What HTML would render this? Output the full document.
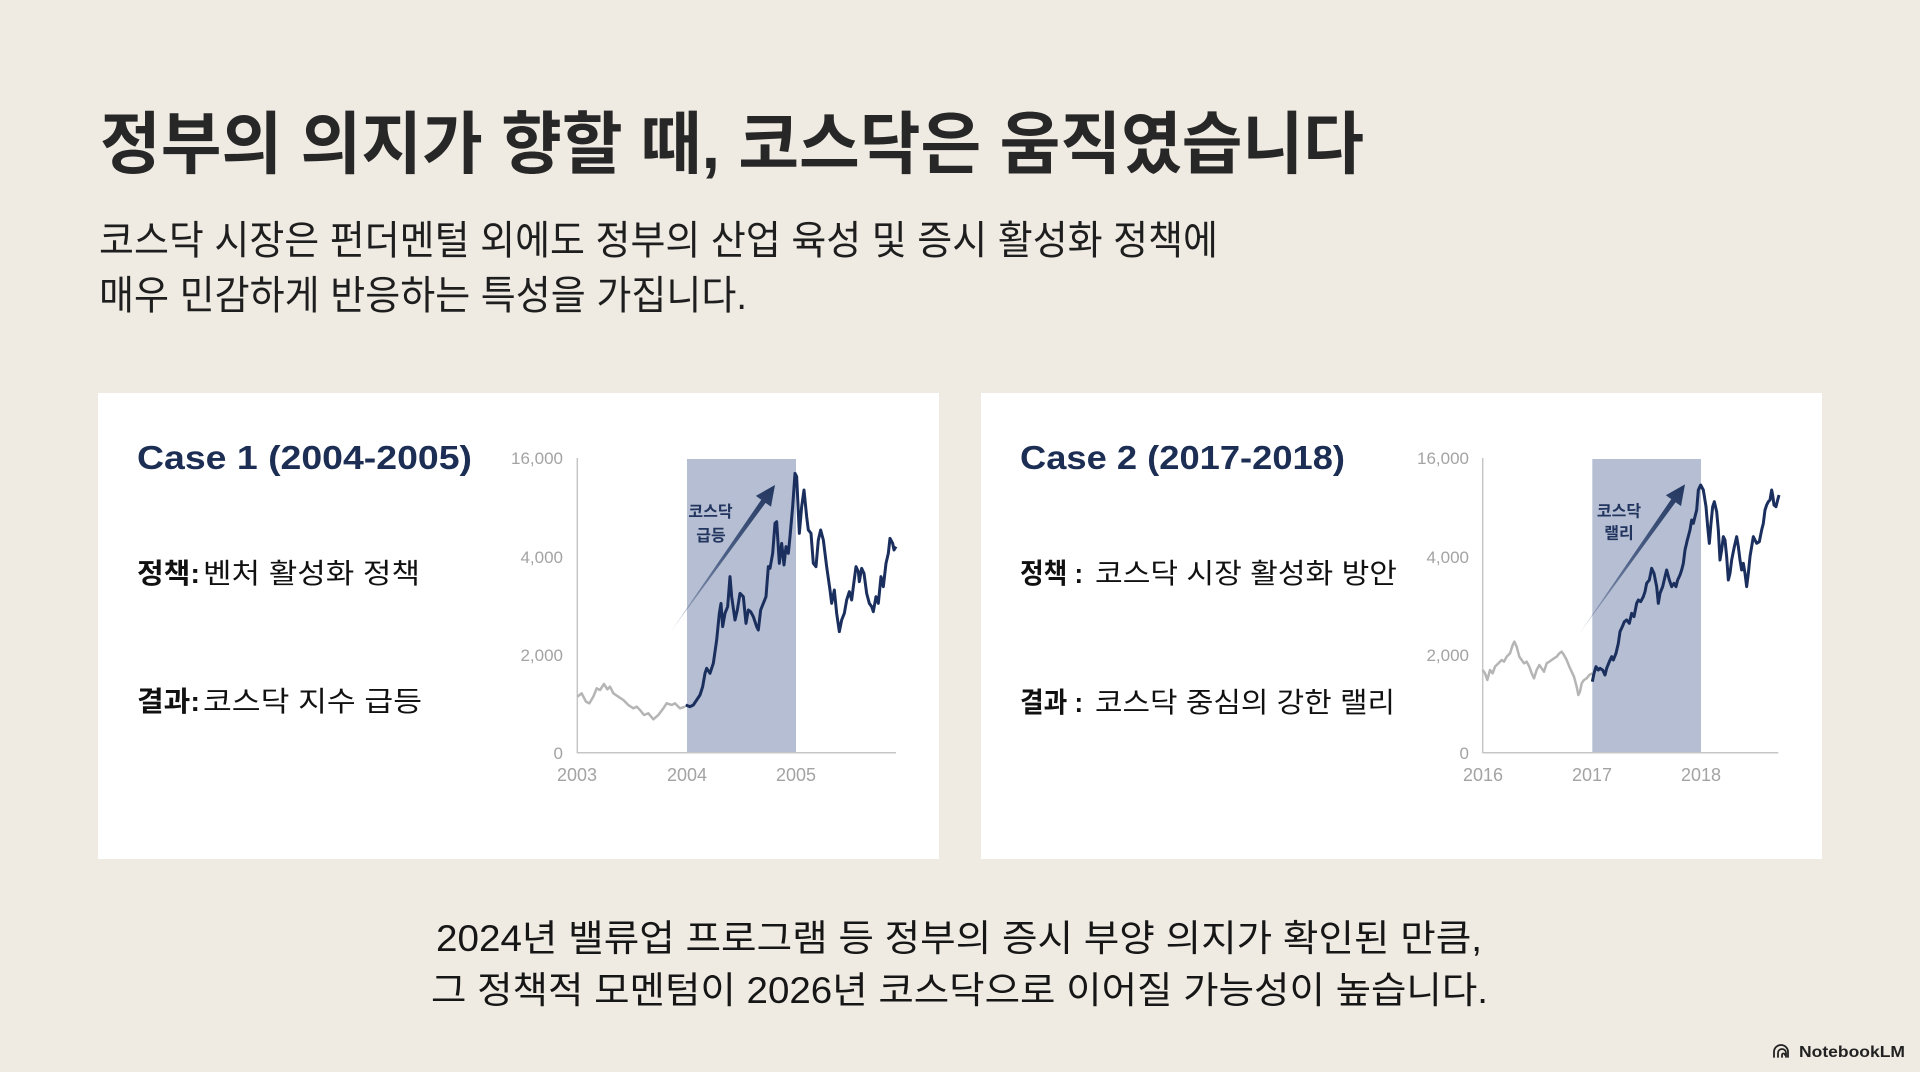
<!DOCTYPE html>
<html>
<head>
<meta charset="utf-8">
<style>
html,body{margin:0;padding:0;background:#efebe3;}
svg{display:block;}
text{font-family:"Liberation Sans","Noto Sans CJK KR",sans-serif;}
</style>
</head>
<body>
<svg width="1920" height="1072" viewBox="0 0 1920 1072" xmlns="http://www.w3.org/2000/svg">
<defs>
<linearGradient id="ag1" gradientUnits="userSpaceOnUse" x1="510" y1="578" x2="825" y2="135">
<stop offset="0" stop-color="#2b416e" stop-opacity="0.15"/>
<stop offset="0.5" stop-color="#2b416e" stop-opacity="0.75"/>
<stop offset="1" stop-color="#22365f" stop-opacity="1"/>
</linearGradient>
<linearGradient id="ag2" gradientUnits="userSpaceOnUse" x1="595" y1="585" x2="915" y2="133">
<stop offset="0" stop-color="#2b416e" stop-opacity="0.15"/>
<stop offset="0.5" stop-color="#2b416e" stop-opacity="0.75"/>
<stop offset="1" stop-color="#22365f" stop-opacity="1"/>
</linearGradient>
</defs>
<rect x="0" y="0" width="1920" height="1072" fill="#efebe3"/>

<!-- Title -->
<text x="100" y="168" font-size="68" font-weight="700" fill="#272727" textLength="1264" lengthAdjust="spacingAndGlyphs">정부의 의지가 향할 때, 코스닥은 움직였습니다</text>

<!-- Subtitle -->
<text x="99" y="254" font-size="40" fill="#1e1e1e" textLength="1119" lengthAdjust="spacingAndGlyphs">코스닥 시장은 펀더멘털 외에도 정부의 산업 육성 및 증시 활성화 정책에</text>
<text x="99" y="309" font-size="40" fill="#1e1e1e" textLength="648" lengthAdjust="spacingAndGlyphs">매우 민감하게 반응하는 특성을 가집니다.</text>

<!-- Cards -->
<rect x="98" y="393" width="841" height="466" fill="#ffffff"/>
<rect x="981" y="393" width="841" height="466" fill="#ffffff"/>

<!-- Card 1 text -->
<text x="137" y="469" font-size="33" font-weight="700" fill="#1c2e54" textLength="335" lengthAdjust="spacingAndGlyphs">Case 1 (2004-2005)</text>
<text x="137" y="583" font-size="28" font-weight="700" fill="#111" textLength="63" lengthAdjust="spacingAndGlyphs">정책:</text>
<text x="203" y="583" font-size="28" fill="#111" textLength="217" lengthAdjust="spacingAndGlyphs">벤처 활성화 정책</text>
<text x="137" y="711" font-size="28" font-weight="700" fill="#111" textLength="63" lengthAdjust="spacingAndGlyphs">결과:</text>
<text x="203" y="711" font-size="28" fill="#111" textLength="219" lengthAdjust="spacingAndGlyphs">코스닥 지수 급등</text>

<!-- Card 2 text -->
<text x="1020" y="469" font-size="33" font-weight="700" fill="#1c2e54" textLength="325" lengthAdjust="spacingAndGlyphs">Case 2 (2017-2018)</text>
<text x="1020" y="583" font-size="28" font-weight="700" fill="#111" textLength="63" lengthAdjust="spacingAndGlyphs">정책 :</text>
<text x="1095" y="583" font-size="28" fill="#111" textLength="302" lengthAdjust="spacingAndGlyphs">코스닥 시장 활성화 방안</text>
<text x="1020" y="712" font-size="28" font-weight="700" fill="#111" textLength="63" lengthAdjust="spacingAndGlyphs">결과 :</text>
<text x="1095" y="712" font-size="28" fill="#111" textLength="300" lengthAdjust="spacingAndGlyphs">코스닥 중심의 강한 랠리</text>

<!-- Chart 1 -->
<rect x="687" y="459" width="109" height="293.7" fill="#b5bed2"/>
<line x1="577.3" y1="458" x2="577.3" y2="753" stroke="#c6c6c6" stroke-width="1.5"/>
<line x1="577" y1="752.7" x2="896" y2="752.7" stroke="#c6c6c6" stroke-width="1.5"/>
<g font-size="17" fill="#a3a3a3" text-anchor="end">
<text x="563" y="464">16,000</text>
<text x="563" y="563">4,000</text>
<text x="563" y="661">2,000</text>
<text x="563" y="759">0</text>
</g>
<g font-size="18" fill="#a3a3a3" text-anchor="middle">
<text x="577" y="781">2003</text>
<text x="687" y="781">2004</text>
<text x="796" y="781">2005</text>
</g>
<g transform="translate(500,440) scale(0.33333)">
<polygon points="510,578 783.8,179.3 767.5,167.7 825,135 813.1,200.1 796.8,188.5" fill="url(#ag1)"/>
<polyline fill="none" stroke="#b5b5b5" stroke-width="2.5" vector-effect="non-scaling-stroke" stroke-linejoin="round" points="232,770 245,760 258,785 268,790 280,770 290,745 300,750 312,732 322,748 330,740 340,760 355,770 370,780 385,795 400,805 410,800 420,810 432,825 445,820 460,838 475,825 490,805 500,790 515,795 525,790 540,805 555,800"/>
<polyline fill="none" stroke="#1b2f5e" stroke-width="3" vector-effect="non-scaling-stroke" stroke-linejoin="round" points="557,795 570,800 580,795 590,780 600,765 608,740 615,700 620,685 630,700 640,670 650,600 658,520 663,490 668,560 675,520 683,500 690,410 695,470 705,540 712,510 720,460 730,470 738,550 745,510 752,515 760,530 770,560 775,570 782,510 790,490 798,470 805,380 810,385 818,340 825,250 830,245 838,370 845,310 852,375 858,320 865,340 870,290 878,200 885,100 890,110 898,280 905,200 912,150 920,230 925,270 933,280 940,370 948,380 955,300 962,270 970,300 980,380 990,450 995,490 1003,450 1010,520 1018,575 1025,540 1033,520 1040,480 1048,455 1055,480 1060,440 1068,380 1075,395 1078,425 1085,385 1092,400 1100,460 1108,490 1115,500 1120,515 1128,470 1135,490 1143,410 1150,440 1158,370 1165,340 1170,295 1178,310 1182,330 1188,320"/>
</g>
<g font-size="16" font-weight="700" fill="#22355f" text-anchor="middle">
<text x="710.5" y="517">코스닥</text>
<text x="711" y="541">급등</text>
</g>

<!-- Chart 2 -->
<rect x="1592.3" y="459" width="108.7" height="293.7" fill="#b5bed2"/>
<line x1="1482.7" y1="458" x2="1482.7" y2="753" stroke="#c6c6c6" stroke-width="1.5"/>
<line x1="1482.5" y1="752.7" x2="1778.3" y2="752.7" stroke="#c6c6c6" stroke-width="1.5"/>
<g font-size="17" fill="#a3a3a3" text-anchor="end">
<text x="1469" y="464">16,000</text>
<text x="1469" y="563">4,000</text>
<text x="1469" y="661">2,000</text>
<text x="1469" y="759">0</text>
</g>
<g font-size="18" fill="#a3a3a3" text-anchor="middle">
<text x="1483" y="781">2016</text>
<text x="1592" y="781">2017</text>
<text x="1701" y="781">2018</text>
</g>
<g transform="translate(1380,440) scale(0.33333)">
<polygon points="595,585 873.8,177.4 857.5,165.8 915,133 903.1,198.2 886.8,186.6" fill="url(#ag2)"/>
<polyline fill="none" stroke="#b5b5b5" stroke-width="2.5" vector-effect="non-scaling-stroke" stroke-linejoin="round" points="308,690 315,700 322,720 330,690 338,700 345,680 355,670 365,660 372,665 380,650 390,640 398,615 403,605 410,620 418,650 425,660 432,670 440,665 448,680 455,700 462,715 470,690 478,675 485,685 492,695 500,670 508,665 515,660 522,655 530,650 538,640 545,635 552,645 560,660 568,680 575,695 582,710 590,740 595,765 600,755 605,730 612,720 620,715 628,705 637,700"/>
<polyline fill="none" stroke="#1b2f5e" stroke-width="3" vector-effect="non-scaling-stroke" stroke-linejoin="round" points="637,725 642,700 648,680 655,690 660,685 668,690 675,705 680,685 688,665 695,650 700,660 708,640 715,610 720,575 727,560 733,545 740,540 748,550 755,520 762,530 770,490 775,480 782,485 790,470 795,455 800,430 808,420 815,385 822,400 830,440 835,490 840,460 848,440 855,410 860,390 868,420 875,440 882,430 888,440 893,420 900,405 905,390 910,370 915,330 922,300 930,270 935,240 940,250 945,230 950,210 955,150 962,135 970,150 978,200 983,260 988,310 993,250 998,200 1003,185 1010,215 1015,270 1020,360 1025,330 1030,290 1035,300 1040,350 1045,420 1050,400 1055,360 1063,320 1070,290 1075,320 1080,360 1085,390 1090,370 1095,400 1100,440 1105,400 1110,350 1115,320 1120,290 1125,300 1130,310 1138,305 1145,270 1150,250 1155,210 1160,195 1165,185 1170,180 1175,150 1178,165 1182,195 1188,200 1193,180 1197,165"/>
</g>
<g font-size="16" font-weight="700" fill="#22355f" text-anchor="middle">
<text x="1619" y="516.5">코스닥</text>
<text x="1619" y="538.5">랠리</text>
</g>

<!-- Bottom text -->
<text x="436" y="951" font-size="37" fill="#161616" textLength="1046" lengthAdjust="spacingAndGlyphs">2024년 밸류업 프로그램 등 정부의 증시 부양 의지가 확인된 만큼,</text>
<text x="431" y="1003" font-size="37" fill="#161616" textLength="1057" lengthAdjust="spacingAndGlyphs">그 정책적 모멘텀이 2026년 코스닥으로 이어질 가능성이 높습니다.</text>

<!-- NotebookLM logo -->
<g fill="none" stroke="#222" stroke-width="1.8" stroke-linecap="round">
<path d="M1774 1057 V1052 A7 7 0 0 1 1788 1052 V1057"/>
<path d="M1778 1057 V1053 A4 4 0 0 1 1786 1053 V1057"/>
<path d="M1782 1057 V1055 A1.5 1.5 0 0 1 1785 1055"/>
</g>
<text x="1799" y="1057" font-size="16" font-weight="700" fill="#222" textLength="106" lengthAdjust="spacingAndGlyphs">NotebookLM</text>
</svg>
</body>
</html>
